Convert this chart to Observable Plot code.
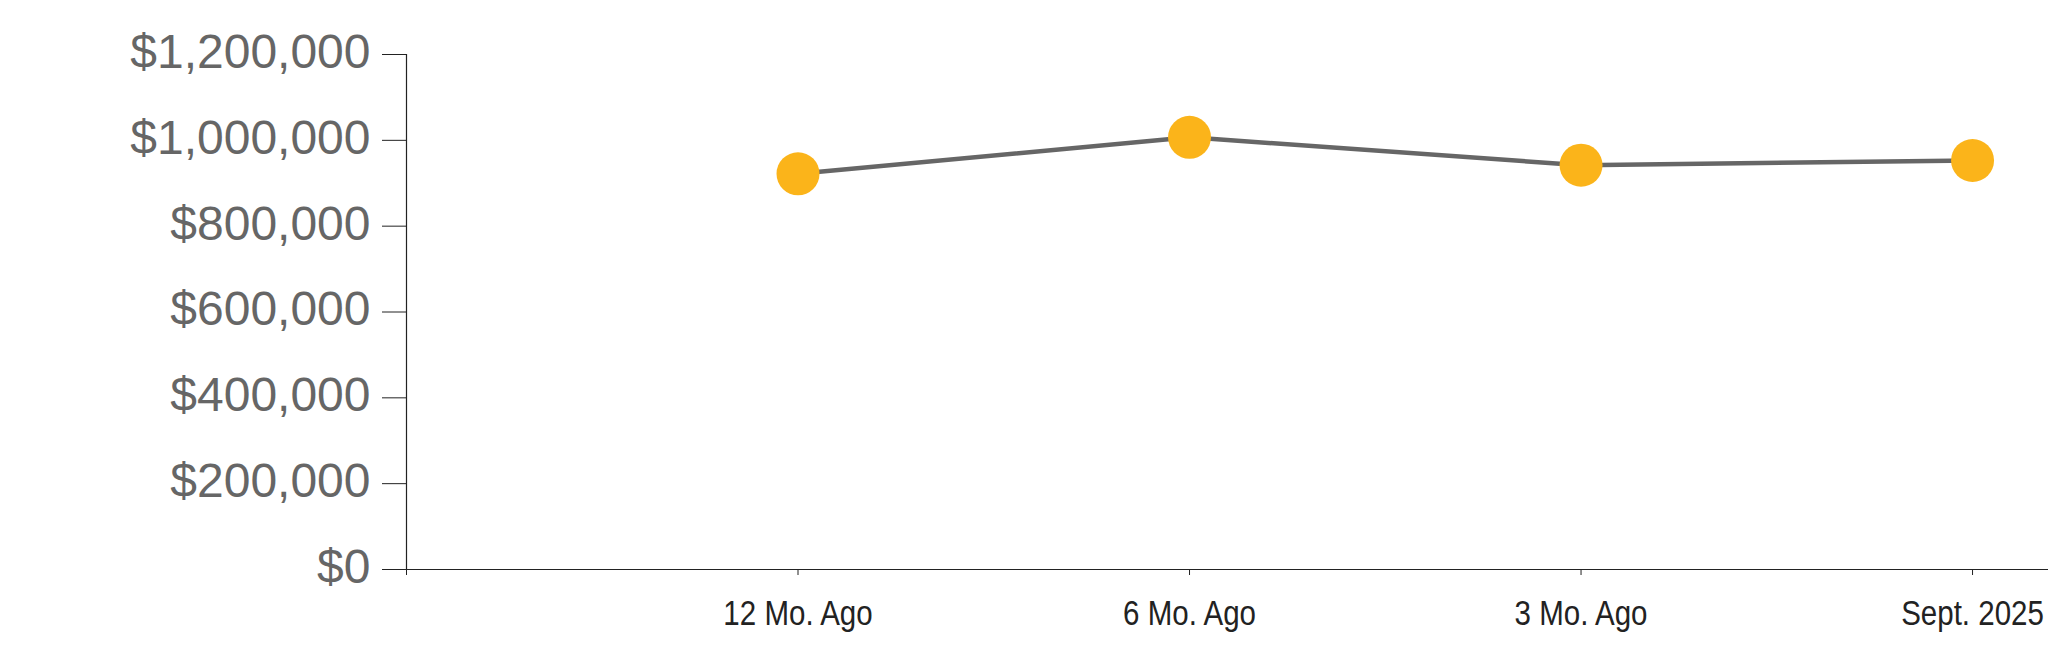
<!DOCTYPE html>
<html>
<head>
<meta charset="utf-8">
<script src="https://cdn.jsdelivr.net/npm/d3@7"></script>
<script src="https://cdn.jsdelivr.net/npm/@observablehq/plot@0.6"></script>
<style>
  html, body { margin: 0; padding: 0; background: #fff; }
  #chart svg { display: block; }
  g[aria-label="y-axis tick"] { stroke: #222; }
  g[aria-label="x-axis tick"] { stroke: #222; }
</style>
</head>
<body>
<div id="chart"></div>
<script>
const categories = ["12 Mo. Ago", "6 Mo. Ago", "3 Mo. Ago", "Sept. 2025"];
const values = [922000, 1007000, 942000, 953000];
const yTicks = [0, 200000, 400000, 600000, 800000, 1000000, 1200000];

const data = categories.map((c, i) => ({label: c, idx: i + 1, value: values[i]}));
const fmt = d3.format("$,");

const chart = Plot.plot({
  width: 2048,
  height: 663,
  marginLeft: 406,
  marginRight: 0,
  marginTop: 54,
  marginBottom: 94,
  style: {background: "#fff", fontFamily: "'Liberation Sans', Arial, sans-serif"},
  x: {type: "linear", domain: [0, 4.194], axis: null},
  y: {domain: [0, 1200000], axis: null},
  marks: [
    Plot.axisY({
      ticks: yTicks,
      tickFormat: fmt,
      tickSize: 24,
      tickPadding: 12,
      fontSize: 48,
      fill: "#666",
      label: null,
      fontFamily: "'Liberation Sans', Arial, sans-serif"
    }),
    Plot.axisX({
      ticks: [0, 1, 2, 3, 4],
      tickFormat: d => d === 0 ? "" : categories[d - 1],
      tickSize: 6,
      tickPadding: 24,
      fontSize: 36,
      fill: "#222",
      label: null,
      fontFamily: "'Liberation Sans', Arial, sans-serif"
    }),
    Plot.ruleY([0], {stroke: "#222", strokeWidth: 1.2}),
    Plot.ruleX([0], {stroke: "#222", strokeWidth: 1.2}),
    Plot.line(data, {x: "idx", y: "value", stroke: "#666", strokeWidth: 4.5}),
    Plot.dot(data, {x: "idx", y: "value", r: 21.5, fill: "#FBB41A", stroke: "none"})
  ]
});
document.getElementById("chart").appendChild(chart);

// y labels sit a touch above their ticks
d3.select(chart).selectAll('g[aria-label="y-axis tick label"] text').each(function() {
  const t = this.getAttribute("transform") || "";
  this.setAttribute("transform", t + " translate(0,-2)");
});
// x labels use a condensed face in the reference (no narrow font installed)
d3.select(chart).selectAll('g[aria-label="x-axis tick label"] text').each(function() {
  const t = this.getAttribute("transform") || "";
  this.setAttribute("transform", t + " scale(0.82,1)");
});
</script>
</body>
</html>
